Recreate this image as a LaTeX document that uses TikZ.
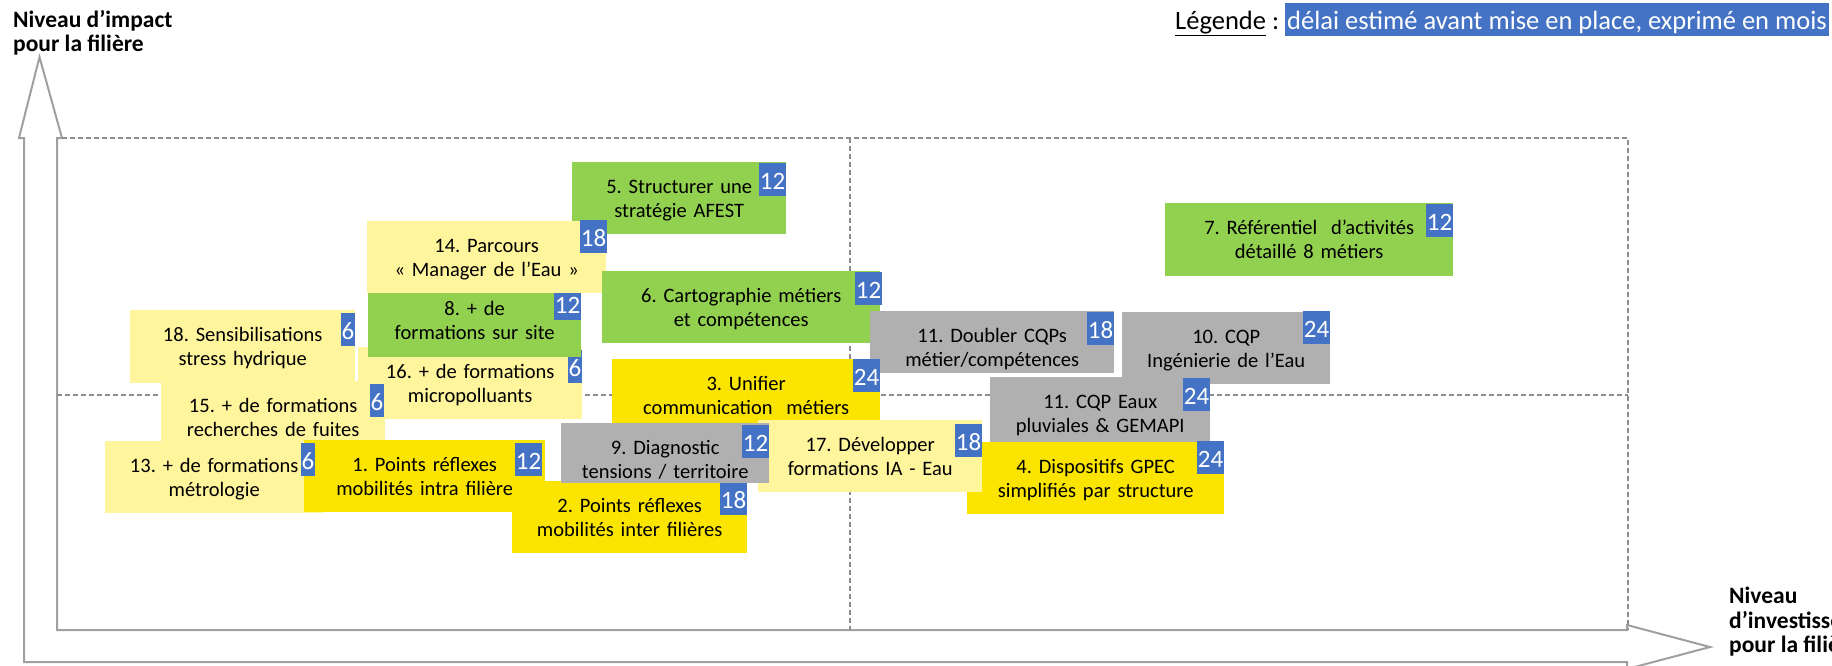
\documentclass[tikz,border=0pt]{standalone}
\usepackage{fontspec}
\setmainfont{Carlito}
\usepackage{xcolor}
\frenchspacing
\definecolor{vert}{RGB}{146,208,80}
\definecolor{jaune}{RGB}{250,228,0}
\definecolor{jaunepale}{RGB}{255,245,157}
\definecolor{gris}{RGB}{176,176,176}
\definecolor{bleu}{RGB}{68,114,196}
\definecolor{axe}{RGB}{160,160,160}
\definecolor{tirets}{RGB}{140,140,140}

\begin{document}
\begin{tikzpicture}[x=1pt, y=-1pt,
  action/.style={rectangle, anchor=north west, inner sep=0pt, align=center, text height=31pt, font=\fontsize{20.5}{24.5}\selectfont},
  delai/.style={rectangle, anchor=north east, fill=bleu, text=white, inner xsep=1pt, inner ysep=0pt, text height=26pt, text depth=7pt, font=\fontsize{25}{25}\selectfont},
  axelabel/.style={anchor=north west, inner sep=0pt, align=left, font=\fontsize{23.5}{24.5}\selectfont\bfseries},
  grille/.style={draw=tirets, line width=1.2pt, dash pattern=on 5pt off 3pt}
]
\useasboundingbox (0,0) rectangle (1832,665);
\clip (0,0) rectangle (1832,665);

\draw[draw=axe, line width=2pt, fill=white] (19,138) -- (39.5,57) -- (62,138) -- (57,138) -- (57,630) -- (1627,630) -- (1627,625) -- (1710,647) -- (1627,669) -- (1627,662) -- (24,662) -- (24,138) -- cycle;
\draw[grille] (62,138) -- (1628,138) -- (1628,630);
\draw[grille] (57,395) -- (1628,395);
\draw[grille] (850,138) -- (850,630);

\node[axelabel] (impact) at (13,10) {Niveau d’impact\\pour la filière};
\node[axelabel] (invest) at (1729,587) {Niveau\\d’investissement\\pour la filière};
\node[anchor=base west, inner sep=0pt, font=\fontsize{26.5}{30}\selectfont] (legende) at (1175,29) {\underline{Légende} :};
\node[delai, anchor=north west, inner xsep=2pt, font=\fontsize{26.5}{30}\selectfont] (mois) at (1285,3) {délai estimé avant mise en place, exprimé en mois};

\node[action, fill=jaunepale, text width=224pt, text depth=41pt] (b16) at (358,347) {16. + de formations\\micropolluants};
\node[delai] (d16) at ([yshift=-3pt]b16.north east) {6};
\node[action, fill=jaunepale, text width=224pt, text depth=41pt] (b15) at (161,381) {15. + de formations\\recherches de fuites};
\node[delai] (d15) at ([xshift=-1pt, yshift=-3pt]b15.north east) {6};
\node[action, fill=jaunepale, text width=225pt, text depth=42pt] (b18) at (130,310) {18. Sensibilisations\\stress hydrique};
\node[delai] (d18) at ([yshift=-3pt]b18.north east) {6};
\node[action, fill=jaunepale, text width=218pt, text depth=41pt] (b13) at (105,441) {13. + de formations\\métrologie};
\node[action, fill=jaune, text width=241pt, text depth=41pt] (b1) at (304,440) {1. Points réflexes\\mobilités intra filière};
\node[delai] (d1) at ([xshift=-3pt, yshift=-3pt]b1.north east) {12};
\node[delai] (d13) at ([xshift=-8pt, yshift=-2pt]b13.north east) {6};
\node[action, fill=jaune, text width=235pt, text depth=41pt] (b2) at (512,481) {2. Points réflexes\\mobilités inter filières};
\node[delai] (d2) at ([yshift=-1pt]b2.north east) {18};
\node[action, fill=vert, text width=213pt, text depth=42pt] (b8) at (368,284) {8. + de\\formations sur site};
\node[delai] (d8) at ([yshift=-3pt]b8.north east) {12};
\node[action, fill=vert, text width=214pt, text depth=41pt] (b5) at (572,162) {5. Structurer une\\stratégie AFEST};
\node[delai] (d5) at ([yshift=-1pt]b5.north east) {12};
\node[action, fill=jaunepale, text width=239pt, text depth=41pt] (b14) at (367,221) {14. Parcours\\« Manager de l’Eau »};
\node[delai] (d14) at ([xshift=1pt, yshift=1pt]b14.north east) {18};
\node[action, fill=vert, text width=278pt, text depth=41pt] (b6) at (602,271) {6. Cartographie métiers\\et compétences};
\node[delai] (d6) at ([xshift=2pt, yshift=-1pt]b6.north east) {12};
\node[action, fill=gris, text width=244pt, text depth=31pt] (b11a) at (870,311) {11. Doubler CQPs\\métier/compétences};
\node[delai] (d11a) at ([yshift=-1pt]b11a.north east) {18};
\node[action, fill=jaune, text width=268pt, text depth=41pt] (b3) at (612,359) {3. Unifier\\communication~ métiers};
\node[delai] (d3) at (b3.north east) {24};
\node[action, fill=gris, text width=208pt, text depth=41pt] (b10) at (1122,312) {10. CQP\\Ingénierie de l’Eau};
\node[delai] (d10) at ([yshift=1pt]b10.north east) {24};
\node[action, fill=gris, text width=220pt, text depth=41pt] (b11b) at (990,377) {11. CQP Eaux\\pluviales \& GEMAPI};
\node[delai] (d11b) at ([yshift=-1pt]b11b.north east) {24};
\node[action, fill=jaune, text width=257pt, text depth=41pt] (b4) at (967,442) {4. Dispositifs GPEC\\simplifiés par structure};
\node[delai] (d4) at ([yshift=1pt]b4.north east) {24};
\node[action, fill=jaunepale, text width=224pt, text depth=41pt] (b17) at (758,420) {17. Développer\\formations IA - Eau};
\node[delai] (d17) at ([yshift=-4pt]b17.north east) {18};
\node[action, fill=gris, text width=208pt, text depth=29pt] (b9) at (561,423) {9. Diagnostic\\tensions / territoire};
\node[delai] (d9) at ([yshift=-2pt]b9.north east) {12};
\node[action, fill=vert, text width=288pt, text depth=42pt] (b7) at (1165,203) {7. Référentiel~ d’activités\\détaillé 8 métiers};
\node[delai] (d7) at ([yshift=-1pt]b7.north east) {12};
\end{tikzpicture}
\end{document}
